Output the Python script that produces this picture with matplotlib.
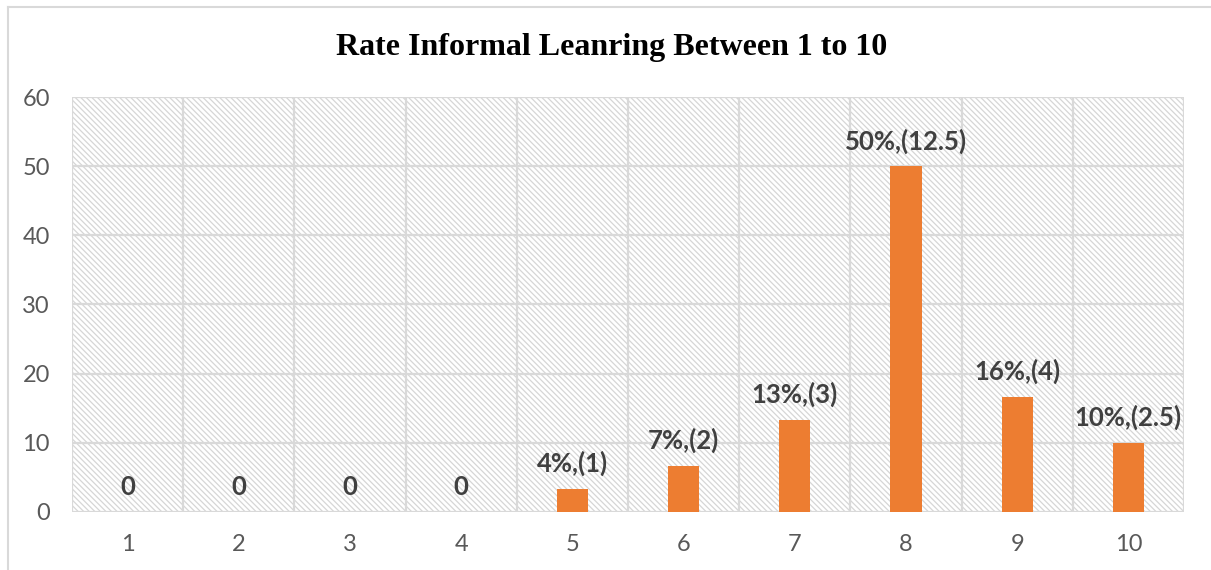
import matplotlib
matplotlib.use("Agg")
import matplotlib.pyplot as plt
from matplotlib.patches import Rectangle
from matplotlib.lines import Line2D

categories = ["1", "2", "3", "4", "5", "6", "7", "8", "9", "10"]
values = [0, 0, 0, 0, 3.33, 6.67, 13.33, 50, 16.67, 10]
labels = ["0", "0", "0", "0", "4%,(1)", "7%,(2)", "13%,(3)", "50%,(12.5)", "16%,(4)", "10%,(2.5)"]
title = "Rate Informal Leanring Between 1 to 10"

bar_color = "#ED7D31"
grid_color = "#D9D9D9"
text_color = "#595959"
label_color = "#404040"
sans = ["Lato", "DejaVu Sans"]

plt.rcParams["hatch.linewidth"] = 0.9

fig = plt.figure(figsize=(12.11, 5.70), dpi=100)
ax = fig.add_axes([0.0595, 0.1018, 0.9182, 0.728])

x = list(range(len(categories)))
ax.set_xlim(-0.5, len(categories) - 0.5)
ax.set_ylim(0, 60)

# hatched plot-area background
bg = Rectangle((0, 0), 1, 1, transform=ax.transAxes, facecolor="white",
               edgecolor="#D6D6D6", linewidth=0, hatch="\\" * 6, zorder=0)
ax.add_patch(bg)

# grid: category boundaries and value ticks
for b in range(len(categories) + 1):
    ax.axvline(b - 0.5, color=grid_color, lw=1.6, zorder=1)
for yv in range(0, 61, 10):
    ax.axhline(yv, color=grid_color, lw=1.6, zorder=1)

ax.bar(x, values, width=0.28, color=bar_color, zorder=3)

for xi, v, lab in zip(x, values, labels):
    ax.annotate(lab, (xi, v), xytext=(0, 9), textcoords="offset points",
                ha="center", va="bottom", fontsize=18.5, fontweight="bold",
                color=label_color, family=sans, zorder=4)

for s in ax.spines.values():
    s.set_visible(False)
ax.set_xticks(x)
ax.set_xticklabels(categories)
ax.set_yticks(range(0, 61, 10))
ax.tick_params(length=0, labelsize=17, labelcolor=text_color)
ax.tick_params(axis="x", pad=16)
ax.tick_params(axis="y", pad=16)
for t in ax.get_xticklabels() + ax.get_yticklabels():
    t.set_family(sans)

fig.text(0.505, 0.917, title, ha="center", va="center", fontsize=23,
         fontweight="bold", family=["Liberation Serif", "DejaVu Serif"], color="black")

# chart frame lines along top and left
fig.add_artist(Line2D([8 / 1211, 1], [1 - 7 / 570, 1 - 7 / 570], color=grid_color, lw=1.5))
fig.add_artist(Line2D([8 / 1211, 8 / 1211], [0, 1 - 7 / 570], color=grid_color, lw=1.5))

fig.savefig("out.png", dpi=100)
